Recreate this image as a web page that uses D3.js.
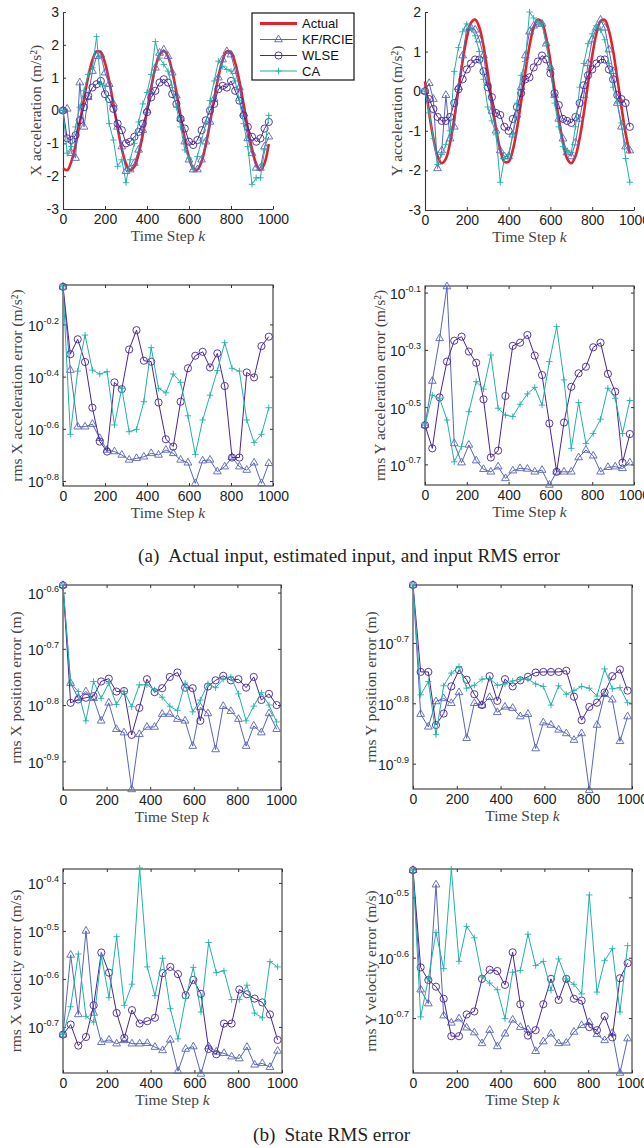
<!DOCTYPE html>
<html lang="en">
<head>
<meta charset="utf-8">
<title>Input and state RMS error</title>
<script src="https://d3js.org/d3.v7.min.js"></script>
<style>
  body { margin: 0; background: #fff; }
  svg { display: block; }
  .tick text { font-family: "Liberation Sans", Arial, sans-serif; font-size: 14px; fill: #222; }
  .ylab, .xlab { font-family: "Liberation Serif", "Times New Roman", serif; font-size: 15.5px; fill: #444; }
  .legend text { font-family: "Liberation Sans", Arial, sans-serif; font-size: 13px; fill: #111; }
  .caption { font-family: "Liberation Serif", "Times New Roman", serif; font-size: 19.2px; fill: #222; }
</style>
</head>
<body>
<script>
// ---- data ----
const xTicks = [0, 200, 400, 600, 800, 1000];

// time steps of the acceleration estimates
const stepsAcc = [0, 20, 40, 60, 80, 100, 120, 140, 160, 180, 200, 220, 240, 260, 280, 300, 320, 340, 360, 380,
  400, 420, 440, 460, 480, 500, 520, 540, 560, 580, 600, 620, 640, 660, 680, 700, 720, 740, 760, 780,
  800, 820, 840, 860, 880, 900, 920, 940, 960, 980];
// time steps of the rms curves
const stepsRms = [0, 35, 70, 105, 140, 175, 210, 245, 280, 315, 350, 385, 420, 455, 490, 525, 560, 595, 630, 665,
  700, 735, 770, 805, 840, 875, 910, 945, 980];

// X acceleration (m/s^2)
const accXActual = [-1.76, -1.82, -1.55, -1.05, -0.38, 0.35, 1.02, 1.53, 1.80, 1.77, 1.45, 0.90, 0.20, -0.53, -1.17, -1.62, -1.82, -1.71, -1.33, -0.74,
  -0.02, 0.70, 1.31, 1.70, 1.82, 1.64, 1.20, 0.56, -0.17, -0.87, -1.43, -1.76, -1.80, -1.55, -1.05, -0.38, 0.35, 1.02, 1.53, 1.80,
  1.77, 1.45, 0.90, 0.20, -0.53, -1.17, -1.62, -1.82, -1.60, -1.02];
const accXKf = [0.0, 0.05, -1.3, -1.45, 0.85, -0.5, 0.4, 1.2, 1.65, 1.7, 1.15, 0.8, 0.2, -0.5, -1.1, -1.85, -1.8, -1.6, -1.2, -0.6,
  0.0, 0.6, 1.3, 1.75, 1.85, 1.65, 1.15, 0.45, -0.25, -0.95, -1.5, -1.8, -1.8, -1.5, -0.95, -0.35, 0.35, 1.0, 1.55, 1.8,
  1.7, 1.2, 0.7, -0.1, -0.85, -1.3, -1.75, -1.75, -1.1, -0.8];
const accXWlse = [0.0, -0.85, -0.9, -0.75, -0.3, 0.1, 0.45, 0.7, 0.8, 0.9, 0.5, 0.35, 0.05, -0.4, -0.6, -1.0, -0.95, -0.8, -0.65, -0.4,
  -0.05, 0.4, 0.6, 0.85, 0.95, 0.85, 0.5, 0.2, -0.25, -0.55, -0.95, -1.05, -0.9, -0.6, -0.3, 0.0, 0.2, 0.65, 0.75, 0.7,
  0.9, 0.6, 0.3, -0.15, -0.5, -0.8, -0.95, -0.85, -0.55, -0.35];
const accXCa = [0.0, -1.3, -1.1, -0.5, 0.1, 0.6, 1.1, 1.3, 2.25, 0.8, 0.75, -0.4, -0.9, -1.7, -1.5, -2.2, -1.5, -1.0, -0.35, 0.2,
  0.55, 1.1, 2.1, 1.6, 1.4, 1.2, 0.7, 0.1, -0.5, -1.2, -1.45, -1.8, -1.4, -0.9, -0.4, 0.3, 0.9, 1.5, 1.35, 1.25,
  1.2, 0.9, 0.3, -0.4, -1.1, -2.25, -2.05, -2.05, -1.2, -0.15];

// Y acceleration (m/s^2)
const accYActual = [0.25, -0.55, -1.19, -1.64, -1.82, -1.70, -1.30, -0.69, 0.04, 0.76, 1.35, 1.73, 1.81, 1.61, 1.14, 0.48, -0.26, -0.95, -1.48, -1.78,
  -1.78, -1.49, -0.95, -0.26, 0.48, 1.14, 1.61, 1.81, 1.73, 1.35, 0.76, 0.04, -0.69, -1.30, -1.70, -1.82, -1.64, -1.19, -0.55, 0.19,
  0.89, 1.45, 1.77, 1.80, 1.53, 1.02, 0.33, -0.40, -1.07, -1.57];
const accYKf = [0.0, 0.2, -0.2, -1.95, -1.5, -0.1, -1.2, -0.9, 0.1, 0.9, 1.6, 1.6, 1.55, 1.3, 0.9, 0.2, -0.5, -1.0, -1.5, -1.65,
  -1.65, -1.1, -0.6, 0.1, 0.9, 1.5, 1.65, 1.7, 1.7, 1.2, 0.6, -0.1, -0.7, -1.2, -1.55, -1.65, -1.3, -0.7, -0.1, 0.7,
  1.3, 1.6, 1.8, 1.6, 1.05, 0.5, -0.3, -0.9, -1.4, -1.5];
const accYWlse = [0.0, -0.2, -0.45, -0.65, -0.75, -0.75, -0.65, -0.3, 0.05, 0.3, 0.55, 0.7, 0.8, 0.8, 0.5, 0.1, -0.15, -0.55, -0.6, -0.9,
  -1.0, -0.7, -0.4, -0.05, 0.3, 0.35, 0.6, 0.75, 0.9, 0.8, 0.45, -0.05, -0.35, -0.7, -0.75, -0.8, -0.65, -0.3, 0.15, 0.4,
  0.55, 0.7, 0.8, 0.8, 0.55, 0.3, -0.1, -0.2, -0.3, -0.9];
const accYCa = [0.0, -0.55, -1.2, -1.85, -1.6, -1.35, -1.0, 0.5, 1.1, 1.5, 1.7, 1.6, 1.4, 1.0, 0.3, -0.4, -0.75, -1.1, -2.3, -1.7,
  -1.6, -1.1, -0.3, 0.4, 0.75, 2.0, 1.85, 1.75, 1.7, 1.2, 0.6, -0.3, -0.9, -1.4, -1.5, -1.55, -0.9, 0.1, 0.7, 1.2,
  1.45, 1.65, 1.55, 1.3, 0.7, 0.1, -0.3, -0.8, -1.7, -2.3];

// rms errors, stored as log10 exponents
const rmsAccXKf = [-0.056, -0.375, -0.592, -0.592, -0.582, -0.636, -0.681, -0.687, -0.700, -0.719, -0.713, -0.707, -0.694, -0.700, -0.681,
  -0.694, -0.719, -0.730, -0.809, -0.722, -0.719, -0.764, -0.745, -0.709, -0.745, -0.758, -0.730, -0.809, -0.732];
const rmsAccXWlse = [-0.056, -0.314, -0.257, -0.344, -0.519, -0.649, -0.687, -0.422, -0.448, -0.296, -0.222, -0.339, -0.343, -0.499, -0.640,
  -0.668, -0.496, -0.368, -0.320, -0.305, -0.365, -0.311, -0.436, -0.710, -0.710, -0.384, -0.403, -0.283, -0.247];
const rmsAccXCa = [-0.056, -0.621, -0.379, -0.241, -0.375, -0.390, -0.381, -0.585, -0.445, -0.611, -0.602, -0.496, -0.289, -0.445, -0.462,
  -0.390, -0.422, -0.550, -0.698, -0.566, -0.471, -0.377, -0.270, -0.368, -0.379, -0.566, -0.653, -0.621, -0.519];

const rmsAccYKf = [-0.563, -0.409, -0.260, -0.079, -0.627, -0.694, -0.632, -0.687, -0.717, -0.726, -0.708, -0.749, -0.722, -0.714, -0.716,
  -0.726, -0.720, -0.772, -0.726, -0.726, -0.726, -0.676, -0.650, -0.670, -0.726, -0.710, -0.708, -0.714, -0.694];
const rmsAccYWlse = [-0.563, -0.644, -0.466, -0.341, -0.268, -0.254, -0.306, -0.345, -0.473, -0.676, -0.652, -0.461, -0.286, -0.275, -0.248,
  -0.320, -0.388, -0.557, -0.726, -0.554, -0.429, -0.382, -0.359, -0.291, -0.275, -0.384, -0.446, -0.694, -0.594];
const rmsAccYCa = [-0.563, -0.458, -0.469, -0.545, -0.691, -0.638, -0.516, -0.411, -0.437, -0.318, -0.504, -0.528, -0.533, -0.490, -0.454,
  -0.431, -0.493, -0.341, -0.219, -0.405, -0.644, -0.484, -0.627, -0.592, -0.542, -0.434, -0.469, -0.592, -0.477];

const rmsPosXKf = [-0.587, -0.761, -0.788, -0.776, -0.788, -0.828, -0.796, -0.843, -0.849, -0.950, -0.852, -0.839, -0.839, -0.816, -0.816,
  -0.825, -0.828, -0.873, -0.804, -0.815, -0.879, -0.802, -0.811, -0.825, -0.873, -0.837, -0.849, -0.815, -0.843];
const rmsPosXWlse = [-0.587, -0.796, -0.790, -0.787, -0.784, -0.758, -0.753, -0.776, -0.775, -0.853, -0.805, -0.754, -0.777, -0.770, -0.750,
  -0.742, -0.769, -0.770, -0.828, -0.767, -0.756, -0.748, -0.756, -0.754, -0.769, -0.750, -0.791, -0.780, -0.800];
const rmsPosXCa = [-0.587, -0.761, -0.776, -0.828, -0.758, -0.788, -0.761, -0.799, -0.776, -0.803, -0.764, -0.764, -0.773, -0.786, -0.802,
  -0.810, -0.761, -0.812, -0.791, -0.762, -0.769, -0.754, -0.750, -0.780, -0.828, -0.802, -0.778, -0.800, -0.830];

const rmsPosYKf = [-0.604, -0.818, -0.839, -0.797, -0.792, -0.800, -0.782, -0.858, -0.800, -0.803, -0.790, -0.815, -0.806, -0.808, -0.822,
  -0.818, -0.875, -0.832, -0.836, -0.844, -0.850, -0.861, -0.850, -0.944, -0.836, -0.785, -0.794, -0.863, -0.822];
const rmsPosYWlse = [-0.604, -0.748, -0.748, -0.836, -0.817, -0.772, -0.745, -0.761, -0.785, -0.803, -0.755, -0.796, -0.760, -0.772, -0.762,
  -0.756, -0.749, -0.748, -0.748, -0.748, -0.746, -0.789, -0.828, -0.806, -0.799, -0.782, -0.755, -0.744, -0.779];
const rmsPosYCa = [-0.604, -0.786, -0.764, -0.852, -0.771, -0.750, -0.739, -0.775, -0.770, -0.760, -0.759, -0.770, -0.768, -0.763, -0.760,
  -0.760, -0.768, -0.772, -0.803, -0.771, -0.785, -0.779, -0.772, -0.775, -0.788, -0.743, -0.776, -0.774, -0.799];

const rmsVelXKf = [-0.716, -0.550, -0.674, -0.500, -0.671, -0.732, -0.727, -0.735, -0.728, -0.735, -0.735, -0.734, -0.742, -0.749, -0.727,
  -0.792, -0.746, -0.741, -0.798, -0.741, -0.752, -0.755, -0.762, -0.766, -0.742, -0.779, -0.776, -0.784, -0.750];
const rmsVelXWlse = [-0.716, -0.695, -0.739, -0.721, -0.655, -0.545, -0.587, -0.671, -0.723, -0.665, -0.693, -0.688, -0.681, -0.588, -0.575,
  -0.590, -0.634, -0.602, -0.631, -0.746, -0.757, -0.693, -0.693, -0.622, -0.632, -0.641, -0.649, -0.674, -0.727];
const rmsVelXCa = [-0.716, -0.658, -0.548, -0.678, -0.690, -0.552, -0.639, -0.512, -0.655, -0.611, -0.369, -0.575, -0.635, -0.557, -0.662,
  -0.725, -0.641, -0.576, -0.669, -0.524, -0.587, -0.583, -0.643, -0.643, -0.613, -0.671, -0.681, -0.564, -0.575];

const rmsVelYKf = [-0.455, -0.653, -0.676, -0.479, -0.696, -0.708, -0.701, -0.716, -0.724, -0.742, -0.720, -0.747, -0.726, -0.703, -0.715,
  -0.719, -0.755, -0.739, -0.726, -0.742, -0.741, -0.723, -0.712, -0.707, -0.727, -0.737, -0.725, -0.791, -0.734];
const rmsVelYWlse = [-0.455, -0.616, -0.637, -0.648, -0.668, -0.730, -0.730, -0.694, -0.689, -0.635, -0.620, -0.622, -0.645, -0.591, -0.677,
  -0.729, -0.720, -0.677, -0.635, -0.670, -0.635, -0.668, -0.671, -0.715, -0.720, -0.697, -0.732, -0.634, -0.609];
const rmsVelYCa = [-0.455, -0.698, -0.635, -0.558, -0.618, -0.453, -0.606, -0.548, -0.567, -0.632, -0.642, -0.653, -0.701, -0.624, -0.621,
  -0.561, -0.613, -0.606, -0.654, -0.602, -0.635, -0.644, -0.660, -0.496, -0.657, -0.605, -0.585, -0.690, -0.580];

const legendNames = ["Actual", "KF/RCIE", "WLSE", "CA"];

// ---- styles ----
const colors = { actual: "#e3222a", kf: "#5865b8", wlse: "#4a2494", ca: "#22b0aa" };
const markers = { kf: "tri", wlse: "circ", ca: "plus" };

const svg = d3.select("body").append("svg")
  .attr("width", 644)
  .attr("height", 1148);

// panel layout (pixel boxes) + which arrays to plot
const panels = [
  { left: 63, right: 273, top: 12, bottom: 209, log: false, yMin: -3, yMax: 3, yTicks: [-3, -2, -1, 0, 1, 2, 3],
    box: false, ylab: "X acceleration (m/s²)", ylabX: 36, steps: stepsAcc,
    actual: accXActual, kf: accXKf, wlse: accXWlse, ca: accXCa },
  { left: 425, right: 634, top: 12, bottom: 210, log: false, yMin: -3, yMax: 2, yTicks: [-3, -2, -1, 0, 1, 2],
    box: false, ylab: "Y acceleration (m/s²)", ylabX: 397, steps: stepsAcc,
    actual: accYActual, kf: accYKf, wlse: accYWlse, ca: accYCa },
  { left: 63, right: 273, top: 285, bottom: 486, log: true, yMin: -0.819, yMax: -0.049, yTicks: [-0.8, -0.6, -0.4, -0.2],
    box: true, ylab: "rms X acceleration error (m/s²)", ylabX: 17, steps: stepsRms,
    kf: rmsAccXKf, wlse: rmsAccXWlse, ca: rmsAccXCa },
  { left: 425, right: 634, top: 286, bottom: 485, log: true, yMin: -0.772, yMax: -0.077, yTicks: [-0.7, -0.5, -0.3, -0.1],
    box: true, ylab: "rms Y acceleration error (m/s²)", ylabX: 380, steps: stepsRms,
    kf: rmsAccYKf, wlse: rmsAccYWlse, ca: rmsAccYCa },
  { left: 63, right: 281, top: 585, bottom: 790, log: true, yMin: -0.951, yMax: -0.5865, yTicks: [-0.9, -0.8, -0.7, -0.6],
    box: true, ylab: "rms X position error (m)", ylabX: 16, steps: stepsRms,
    kf: rmsPosXKf, wlse: rmsPosXWlse, ca: rmsPosXCa },
  { left: 413, right: 632, top: 585, bottom: 789, log: true, yMin: -0.942, yMax: -0.604, yTicks: [-0.9, -0.8, -0.7],
    box: true, ylab: "rms Y position error (m)", ylabX: 371, steps: stepsRms,
    kf: rmsPosYKf, wlse: rmsPosYWlse, ca: rmsPosYCa },
  { left: 63, right: 282, top: 869, bottom: 1073, log: true, yMin: -0.796, yMax: -0.371, yTicks: [-0.7, -0.6, -0.5, -0.4],
    box: true, ylab: "rms X velocity error (m/s)", ylabX: 16, steps: stepsRms,
    kf: rmsVelXKf, wlse: rmsVelXWlse, ca: rmsVelXCa },
  { left: 413, right: 632, top: 869, bottom: 1073, log: true, yMin: -0.791, yMax: -0.453, yTicks: [-0.7, -0.6, -0.5],
    box: true, ylab: "rms Y velocity error (m/s)", ylabX: 371, steps: stepsRms,
    kf: rmsVelYKf, wlse: rmsVelYWlse, ca: rmsVelYCa }
];

const triPath = d3.symbol(d3.symbolTriangle, 26)();

function addMarkers(sel, type, color) {
  if (type === "tri") sel.append("path").attr("d", triPath);
  else if (type === "circ") sel.append("circle").attr("r", 3.6);
  else sel.append("path").attr("d", "M-3.2,0H3.2M0,-3.2V3.2");
  sel.attr("fill", "none").attr("stroke", color).attr("stroke-width", 0.9);
}

function drawPanel(p) {
  const g = svg.append("g");
  const x = d3.scaleLinear().domain([0, 1000]).range([p.left, p.right]);
  const y = p.log
    ? d3.scaleLog().domain([10 ** p.yMin, 10 ** p.yMax]).range([p.bottom, p.top])
    : d3.scaleLinear().domain([p.yMin, p.yMax]).range([p.bottom, p.top]);
  const yVal = p.log ? v => y(10 ** v) : v => y(v);
  const yTickVals = p.log ? p.yTicks.map(t => 10 ** t) : p.yTicks;

  // axes
  g.append("g")
    .attr("transform", `translate(0,${p.bottom})`)
    .style("color", "#333")
    .call(d3.axisBottom(x).tickValues(xTicks).tickSizeInner(-3).tickSizeOuter(0).tickPadding(5.5)
      .tickFormat(d => String(d)));
  const gy = g.append("g")
    .attr("transform", `translate(${p.left},0)`)
    .style("color", "#333")
    .call(d3.axisLeft(y).tickValues(yTickVals).tickSizeInner(-3).tickSizeOuter(0).tickPadding(4)
      .tickFormat(d => p.log ? "" : String(d)));

  if (p.log) {
    gy.selectAll(".tick text").each(function(d) {
      const t = d3.select(this).attr("dy", "0.42em");
      const e = Math.round(Math.log10(d) * 10) / 10;
      t.append("tspan").text("10");
      t.append("tspan").attr("dy", "-7.3").style("font-size", "9px").text(String(e));
    });
  }

  if (p.box) {
    g.append("g").attr("transform", `translate(0,${p.top})`).style("color", "#333")
      .call(d3.axisTop(x).tickValues(xTicks).tickSizeInner(-3).tickSizeOuter(0).tickFormat(""));
    g.append("g").attr("transform", `translate(${p.right},0)`).style("color", "#333")
      .call(d3.axisRight(y).tickValues(yTickVals).tickSizeInner(-3).tickSizeOuter(0).tickFormat(""));
    g.selectAll(".domain").remove();
    g.append("rect")
      .attr("x", p.left).attr("y", p.top)
      .attr("width", p.right - p.left).attr("height", p.bottom - p.top)
      .attr("fill", "none").attr("stroke", "#333").attr("stroke-width", 1.1);
  } else {
    g.selectAll(".domain").attr("stroke-width", 1.1);
  }

  // labels
  g.append("text").attr("class", "ylab")
    .attr("transform", `translate(${p.ylabX},${(p.top + p.bottom) / 2}) rotate(-90)`)
    .attr("text-anchor", "middle").attr("dy", "0.35em")
    .text(p.ylab);
  const xl = g.append("text").attr("class", "xlab")
    .attr("x", (p.left + p.right) / 2).attr("y", p.bottom + 32)
    .attr("text-anchor", "middle");
  xl.append("tspan").text("Time Step ");
  xl.append("tspan").style("font-style", "italic").text("k");

  // series
  if (p.actual) {
    const line = d3.line().curve(d3.curveCatmullRom).x((d, i) => x(p.steps[i])).y(d => yVal(d));
    g.append("path").attr("d", line(p.actual))
      .attr("fill", "none").attr("stroke", colors.actual).attr("stroke-width", 2.6);
  }
  ["kf", "wlse", "ca"].forEach(key => {
    const vals = p[key];
    const line = d3.line().x((d, i) => x(p.steps[i])).y(d => yVal(d));
    g.append("path").attr("d", line(vals))
      .attr("fill", "none").attr("stroke", colors[key]).attr("stroke-width", 1);
    const m = g.append("g").selectAll("g")
      .data(vals.map((v, i) => ({ k: p.steps[i], v: v })))
      .join("g")
      .attr("transform", d => `translate(${x(d.k)},${yVal(d.v)})`);
    addMarkers(m, markers[key], colors[key]);
  });
}

panels.forEach(drawPanel);

// legend (top-left panel)
const lg = svg.append("g").attr("class", "legend");
lg.append("rect").attr("x", 252).attr("y", 13).attr("width", 102).attr("height", 67)
  .attr("fill", "#fff").attr("stroke", "#111").attr("stroke-width", 1.2);
const legendKeys = ["actual", "kf", "wlse", "ca"];
const legendY = [23.5, 39.5, 55.5, 71];
legendKeys.forEach((key, i) => {
  const yy = legendY[i];
  lg.append("line").attr("x1", 260).attr("x2", 297).attr("y1", yy).attr("y2", yy)
    .attr("stroke", colors[key]).attr("stroke-width", key === "actual" ? 3 : 1);
  if (key !== "actual") {
    const m = lg.append("g").attr("transform", `translate(278.5,${yy})`);
    addMarkers(m, markers[key], colors[key]);
  }
  lg.append("text").attr("x", 302).attr("y", yy + 4.5).text(legendNames[i]);
});

// captions
const ca = svg.append("text").attr("class", "caption").attr("x", 138).attr("y", 562);
ca.append("tspan").text("(a)");
ca.append("tspan").attr("dx", 9).text("Actual input, estimated input, and input RMS error");
const cb = svg.append("text").attr("class", "caption").attr("x", 253).attr("y", 1141);
cb.append("tspan").text("(b)");
cb.append("tspan").attr("dx", 9).text("State RMS error");
</script>
</body>
</html>
